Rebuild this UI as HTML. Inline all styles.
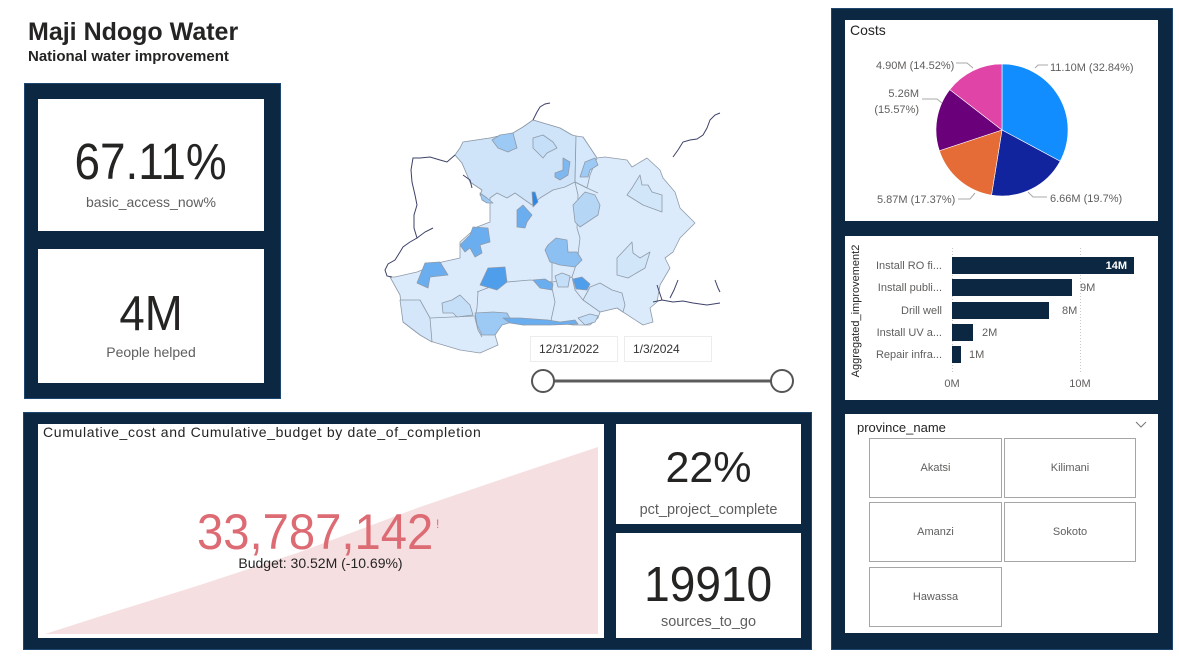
<!DOCTYPE html>
<html><head><meta charset="utf-8">
<style>
*{margin:0;padding:0;box-sizing:border-box}
html,body{width:1179px;height:658px;background:#fff;overflow:hidden;font-family:"Liberation Sans",sans-serif}
.a{position:absolute}
.frame{position:absolute;background:#0c2742;border:1px solid #1d4670}
.card{position:absolute;background:#fff}
.t{position:absolute;line-height:1;white-space:nowrap}
.c{text-align:center}
.big{color:#252423}
.big span{display:inline-block}
.lbl{color:#605e5c}
.tile{position:absolute;border:1px solid #a6a6a6;background:#fff;color:#605e5c;font-size:11px;text-align:center}
.dp{position:absolute;border:1px solid #ececec;background:#fff;font-size:12px;color:#333;line-height:24px}
</style></head><body>

<!-- Title -->
<div class="t" style="left:28px;top:19.8px;font-size:25px;font-weight:bold;color:#252423">Maji Ndogo Water</div>
<div class="t" style="left:28px;top:49.3px;font-size:15px;font-weight:bold;color:#252423">National water improvement</div>

<!-- Frames -->
<div class="frame" style="left:24px;top:83px;width:257px;height:316px"></div>
<div class="card" style="left:38px;top:99px;width:226px;height:132px"></div>
<div class="card" style="left:38px;top:249px;width:226px;height:134px"></div>

<div class="frame" style="left:23px;top:412px;width:789px;height:238px"></div>
<div class="card" style="left:38px;top:424px;width:566px;height:214px"></div>
<div class="card" style="left:616px;top:424px;width:185px;height:100px"></div>
<div class="card" style="left:616px;top:533px;width:185px;height:105px"></div>

<div class="frame" style="left:831px;top:8px;width:342px;height:642px"></div>
<div class="card" style="left:845px;top:20px;width:313px;height:201px"></div>
<div class="card" style="left:845px;top:236px;width:313px;height:164px"></div>
<div class="card" style="left:845px;top:414px;width:313px;height:219px"></div>

<!-- Graphics -->
<svg class="a" style="left:0;top:0" width="1179" height="658" viewBox="0 0 1179 658">
  <!-- area chart -->
  <polygon points="45,634 120,610 200,585 300,552 420,507 520,473 598,447 598,634" fill="#f5dfe1"/>

  <!-- MAP -->
  <g stroke="#8e9aa8" stroke-width="0.8" stroke-linejoin="round">
    <polygon fill="#dcebfc" points="460,148 463,142 490,138 513,133 523,127 533,120 560,128 572,135 580,138 583,137 597,158 605,157 627,160 632,167 647,158 660,170 663,178 675,192 680,208 695,223 680,238 673,252 665,258 670,268 660,285 657,302 650,308 653,322 643,325 623,312 617,308 600,312 598,318 590,325 573,325 553,322 523,325 510,318 502,322 495,335 498,345 480,353 460,350 433,342 420,335 403,322 400,295 390,277 395,277 417,272 442,262 460,258 460,242 477,227 490,222 490,203 480,195 482,190 470,182 468,177 462,163 455,155"/>
    <polygon fill="#cfe4f9" points="455,155 460,148 463,142 490,138 513,133 523,127 533,120 560,128 572,135 576,136 575,182 565,187 553,190 540,198 532,205 515,193 507,198 497,193 490,198 490,203 480,195 482,190 470,182 468,177 462,163"/>
    <polygon fill="#d6e8fb" points="576,136 583,137 597,158 590,175 587,188 575,182"/>
    <polygon fill="#d3e6fa" points="583,300 590,287 600,283 612,290 622,293 625,305 623,312 617,308 600,312"/>
    <polygon fill="#d3e6fa" points="400,300 420,300 430,318 432,342 420,335 403,322"/>
    <polyline fill="none" points="575,182 578,195 577,228 580,238 578,255 575,268 572,277 575,290 583,300"/>
    <polyline fill="none" points="575,182 587,188 598,193"/>
    <polyline fill="none" points="477,292 490,287 507,282 530,280 553,282 572,277"/>
    <polyline fill="none" points="478,292 477,308 475,318 478,330 482,337"/>
    <polyline fill="none" points="552,262 552,288 555,302 550,325"/>
    <polyline fill="none" points="430,318 475,316"/>
    <!-- patches -->
    <polygon fill="#9ccaf5" points="492,140 500,135 513,133 517,148 512,150 508,152 498,148"/>
    <polygon fill="#c6dff8" points="533,138 543,135 553,142 557,148 547,153 543,158 538,153 533,148"/>
    <polygon fill="#7fb8f0" points="563,158 570,162 568,175 560,180 555,177 555,173 563,170"/>
    <polygon fill="#2b88e6" points="532,192 535,192 538,202 533,207"/>
    <polygon fill="#6aaef0" points="517,210 523,205 532,215 527,222 525,228 517,227"/>
    <polygon fill="#6aaef0" points="473,227 488,228 490,242 480,245 482,253 475,257 470,248 465,252 460,245 470,235"/>
    <polygon fill="#6aaef0" points="425,263 440,262 448,275 430,277 428,288 417,283"/>
    <polygon fill="#4f9eec" points="488,268 505,267 507,282 497,290 480,285"/>
    <polygon fill="#9ccaf5" points="475,313 493,312 507,313 512,322 502,325 495,335 482,335 477,325"/>
    <polygon fill="#c6dff8" points="442,303 452,300 460,295 470,305 473,315 457,317 453,313 443,313"/>
    <polygon fill="#9ccaf5" points="480,193 487,198 493,203 487,203 482,200"/>
    <polygon fill="#8cc0f2" points="548,245 556,238 567,240 568,252 577,252 582,260 575,267 560,265 550,262 545,250"/>
    <polygon fill="#b6d6f6" points="573,205 585,192 595,195 600,205 598,215 580,227 575,222"/>
    <polygon fill="#d2e6fa" points="640,175 642,185 648,185 652,192 662,195 662,212 643,205 627,195 632,188"/>
    <polygon fill="#d2e6fa" points="632,242 633,253 640,258 650,252 645,268 628,278 617,275 617,258"/>
    <polygon fill="#9ccaf5" points="585,162 595,158 598,165 590,170 588,177 580,177"/>
    <polygon fill="#6aaef0" points="533,280 545,279 553,284 552,290 540,288"/>
    <polygon fill="#c6dff8" points="555,276 562,273 570,276 568,287 558,287"/>
    <polygon fill="#4f9eec" points="573,279 582,277 590,284 587,290 576,289"/>
    <polygon fill="#6aaef0" points="503,318 520,318 548,320 560,322 575,320 578,324 550,325 523,325 510,323"/>
    <polygon fill="#c6dff8" points="578,318 590,314 598,316 595,322 585,325"/>
  </g>
  <g fill="none" stroke="#3d4168" stroke-width="1">
    <polyline points="533,120 537,112 540,107 545,104 550,103"/>
    <polyline points="673,157 678,150 683,142 690,140 697,139 703,135 707,128 710,120 715,115 720,113"/>
    <polyline points="455,155 447,162 440,160 430,157 420,158 413,158 411,170 412,182 415,195 417,205 414,215 414,228 417,238 410,242 403,247 400,252 395,260 388,264 385,270 387,276 392,277"/>
    <polyline points="417,238 425,232 433,228"/>
    <polyline points="463,175 470,180 472,188"/>
    <polyline points="653,302 662,300 673,302 683,301 693,303 707,305 720,303"/>
    <polyline points="657,285 662,300"/>
    <polyline points="678,280 674,290 670,298"/>
    <polyline points="715,280 718,288 720,292"/>
  </g>

  <!-- slider -->
  <line x1="543" y1="381" x2="782" y2="381" stroke="#5c5c5c" stroke-width="3"/>
  <circle cx="543" cy="381" r="11" fill="#fff" stroke="#555" stroke-width="2"/>
  <circle cx="782" cy="381" r="11" fill="#fff" stroke="#555" stroke-width="2"/>

  <!-- PIE -->
  <g stroke="#fff" stroke-width="0.6">
    <path d="M1002,130 L1002,64 A66,66 0 0 1 1060.15,161.22 Z" fill="#118dff"/>
    <path d="M1002,130 L1060.15,161.22 A66,66 0 0 1 991.51,195.16 Z" fill="#12239e"/>
    <path d="M1002,130 L991.51,195.16 A66,66 0 0 1 939.35,150.74 Z" fill="#e66c37"/>
    <path d="M1002,130 L939.35,150.74 A66,66 0 0 1 949.79,89.62 Z" fill="#6b007b"/>
    <path d="M1002,130 L949.79,89.62 A66,66 0 0 1 1002,64 Z" fill="#e044a7"/>
  </g>
  <g fill="none" stroke="#a8a8a8" stroke-width="1">
    <polyline points="1035,68 1038,65 1048,65"/>
    <polyline points="956,63 967,63 973,68"/>
    <polyline points="922,99 937,99 942,103"/>
    <polyline points="958,199 970,199 975,193"/>
    <polyline points="1028,192 1033,197 1047,197"/>
  </g>
  <g font-family="Liberation Sans, sans-serif" font-size="11" fill="#605e5c">
    <text x="1050" y="71">11.10M (32.84%)</text>
    <text x="876" y="69">4.90M (14.52%)</text>
    <text x="919" y="97" text-anchor="end">5.26M</text>
    <text x="919" y="113" text-anchor="end">(15.57%)</text>
    <text x="877" y="203">5.87M (17.37%)</text>
    <text x="1050" y="202">6.66M (19.7%)</text>
  </g>

  <!-- BAR CHART -->
  <line x1="952.5" y1="248" x2="952.5" y2="372" stroke="#c8c8c8" stroke-dasharray="1,2"/>
  <line x1="1080.5" y1="248" x2="1080.5" y2="372" stroke="#c8c8c8" stroke-dasharray="1,2"/>
  <g fill="#0c2742">
    <rect x="952" y="257" width="182" height="17"/>
    <rect x="952" y="279" width="120" height="17"/>
    <rect x="952" y="302" width="97" height="17"/>
    <rect x="952" y="324" width="21" height="17"/>
    <rect x="952" y="346" width="9" height="17"/>
  </g>
  <g font-family="Liberation Sans, sans-serif" font-size="11" fill="#605e5c">
    <text x="1127" y="269" text-anchor="end" fill="#fff" font-weight="bold">14M</text>
    <text x="1080" y="291">9M</text>
    <text x="1062" y="314">8M</text>
    <text x="982" y="336">2M</text>
    <text x="969" y="358">1M</text>
    <g text-anchor="end">
      <text x="942" y="269">Install RO fi...</text>
      <text x="942" y="291">Install publi...</text>
      <text x="942" y="314">Drill well</text>
      <text x="942" y="336">Install UV a...</text>
      <text x="942" y="358">Repair infra...</text>
    </g>
    <text x="952" y="387" text-anchor="middle">0M</text>
    <text x="1080" y="387" text-anchor="middle">10M</text>
  </g>
  <text x="859" y="311" transform="rotate(-90 859 311)" text-anchor="middle" font-family="Liberation Sans, sans-serif" font-size="11" fill="#252423">Aggregated_improvement2</text>

  <!-- slicer chevron -->
  <polyline points="1136,422 1141,427 1146,422" fill="none" stroke="#777" stroke-width="1"/>
  <!-- calendar icons -->
  <g fill="none" stroke="#888" stroke-width="1">
    <rect x="603.5" y="342.5" width="8" height="8"/>
    <line x1="603.5" y1="345" x2="611.5" y2="345"/>
    <rect x="697.5" y="342.5" width="8" height="8"/>
    <line x1="697.5" y1="345" x2="705.5" y2="345"/>
  </g>
</svg>

<!-- date pickers -->
<div class="dp" style="left:530px;top:336px;width:88px;height:26px;padding-left:8px">12/31/2022</div>
<div class="dp" style="left:624px;top:336px;width:88px;height:26px;padding-left:8px">1/3/2024</div>

<!-- KPI texts -->
<div class="t c big" style="left:38px;top:136.4px;width:226px;font-size:51px"><span style="transform:scaleX(0.9)">67.11%</span></div>
<div class="t c lbl" style="left:38px;top:195px;width:226px;font-size:14px">basic_access_now%</div>
<div class="t c big" style="left:38px;top:289.6px;width:226px;font-size:49px"><span style="transform:scaleX(0.93)">4M</span></div>
<div class="t c lbl" style="left:38px;top:345px;width:226px;font-size:14px">People helped</div>

<div class="t c big" style="left:616px;top:447.4px;width:185px;font-size:43px"><span>22%</span></div>
<div class="t c lbl" style="left:616px;top:502.7px;width:185px;font-size:14.5px">pct_project_complete</div>
<div class="t c big" style="left:616px;top:560.6px;width:185px;font-size:49px"><span style="transform:scaleX(0.94)">19910</span></div>
<div class="t c lbl" style="left:616px;top:615px;width:185px;font-size:14.5px">sources_to_go</div>

<!-- cumulative chart -->
<div class="t" style="left:43px;top:425.1px;font-size:14px;color:#252423;letter-spacing:0.65px">Cumulative_cost and Cumulative_budget by date_of_completion</div>
<div class="t c" style="left:115px;top:506.5px;width:400px;font-size:50px;color:#dd6b74"><span style="display:inline-block;transform:scaleX(0.944)">33,787,142</span></div>
<div class="t" style="left:436px;top:518px;font-size:12px;color:#dd6b74">!</div>
<div class="t c" style="left:170.5px;top:556px;width:300px;font-size:14px;color:#252423">Budget: 30.52M (-10.69%)</div>

<!-- costs title -->
<div class="t" style="left:850px;top:23px;font-size:14px;color:#252423">Costs</div>

<!-- slicer -->
<div class="t" style="left:857px;top:421px;font-size:13px;color:#252423">province_name</div>
<div class="tile" style="left:869px;top:438px;width:133px;height:60px;line-height:58px">Akatsi</div>
<div class="tile" style="left:1004px;top:438px;width:132px;height:60px;line-height:58px">Kilimani</div>
<div class="tile" style="left:869px;top:502px;width:133px;height:60px;line-height:58px">Amanzi</div>
<div class="tile" style="left:1004px;top:502px;width:132px;height:60px;line-height:58px">Sokoto</div>
<div class="tile" style="left:869px;top:567px;width:133px;height:60px;line-height:58px">Hawassa</div>

</body></html>
